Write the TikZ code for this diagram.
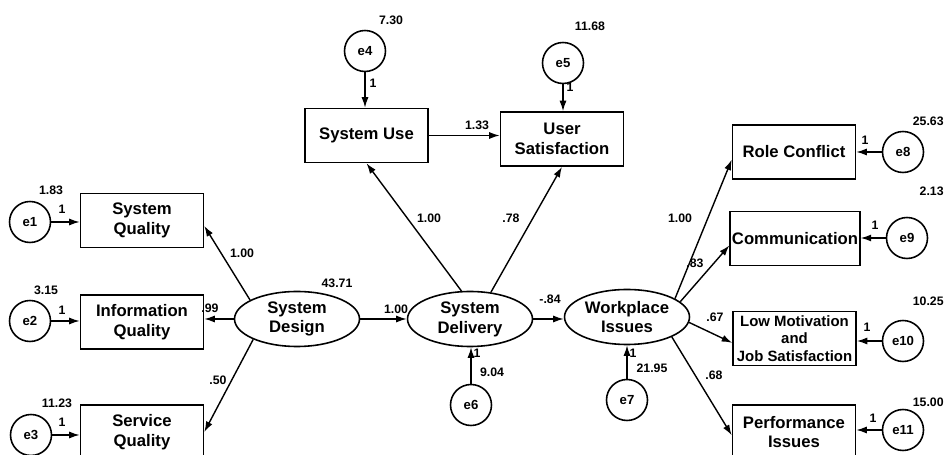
\documentclass[tikz,border=0pt]{standalone}
\usepackage{fontspec}
\setmainfont{Liberation Sans}
\usetikzlibrary{arrows.meta,shapes.geometric}

\begin{document}
\begin{tikzpicture}[x=0.02cm,y=-0.02cm,font=\fontsize{7}{8}\selectfont\bfseries]
  \tikzstyle{obs}=[draw,line width=0.9pt,minimum width=2.46cm,minimum height=1.08cm,align=center,inner sep=1pt,font=\fontsize{9.5}{11.3}\selectfont\bfseries]
  \tikzstyle{lat}=[ellipse,draw,line width=0.9pt,minimum width=2.5cm,minimum height=1.1cm,align=center,inner sep=0pt,font=\fontsize{9.5}{11.3}\selectfont\bfseries]
  \tikzstyle{err}=[circle,draw,line width=0.9pt,minimum size=0.82cm,inner sep=0pt,font=\fontsize{7.5}{8}\selectfont\bfseries]
  \tikzstyle{num}=[inner sep=0pt]
  \tikzstyle{arr}=[-{Latex[length=0.21cm,width=0.14cm]},line width=0.8pt]
  \useasboundingbox (0,0) rectangle (946,455);
  % measured variables
  \node[obs] (sq) at (142,220.5) {System\\Quality};
  \node[obs] (iq) at (142,322) {Information\\Quality};
  \node[obs] (svq) at (142,432) {Service\\Quality};
  \node[obs] (su) at (366.5,135.5) {System Use};
  \node[obs] (us) at (562,139) {User\\Satisfaction};
  \node[obs] (rc) at (794,152) {Role Conflict};
  \node[obs] (com) at (795,238.5) {Communication};
  \node[obs,inner sep=0.5pt,font=\fontsize{8.5}{10}\selectfont\bfseries] (lm) at (794.5,338.5) {Low Motivation\\and\\Job Satisfaction};
  \node[obs] (pi) at (794,432) {Performance\\Issues};
  % latent variables
  \node[lat] (sd) at (297,319) {System\\Design};
  \node[lat] (sdel) at (470,319) {System\\Delivery};
  \node[lat] (wi) at (627,317) {Workplace\\Issues};
  % error terms
  \node[err] (e1) at (30,222) {e1};
  \node[err] (e2) at (30,321) {e2};
  \node[err] (e3) at (31,435) {e3};
  \node[err] (e4) at (365,51) {e4};
  \node[err] (e5) at (563,63) {e5};
  \node[err] (e6) at (471,405) {e6};
  \node[err] (e7) at (627,400) {e7};
  \node[err] (e8) at (903,152) {e8};
  \node[err] (e9) at (907,238) {e9};
  \node[err] (e10) at (903,341) {e10};
  \node[err] (e11) at (903,430) {e11};
  % paths
  \draw[arr] (sd.158) -- (sq.-5);
  \draw[arr] (sd.west) -- (sd.west -| iq.east);
  \draw[arr] (sd.205) -- (svq.east);
  \draw[arr] (sd.east) -- (sd.east -| sdel.west);
  \draw[arr] (sdel.107) -- (su.south);
  \draw[arr] (sdel.52) -- (us.south);
  \draw[arr] (su.east) -- (su.east -| us.west);
  \draw[arr] (sdel.east) -- (sdel.east -| wi.west);
  \draw[arr] (wi.21) -- (rc.187);
  \draw[arr] (wi.16) -- (com.186);
  \draw[arr] (wi.-5) -- (lm.184);
  \draw[arr] (wi.-24) -- (pi.183);
  \draw[arr] (e1) -- (e1 -| sq.west);
  \draw[arr] (e2) -- (e2 -| iq.west);
  \draw[arr] (e3) -- (e3 -| svq.west);
  \draw[arr] (e4) -- (e4 |- su.north);
  \draw[arr] (e5) -- (e5 |- us.north);
  \draw[arr] (e6) -- (e6 |- sdel.south);
  \draw[arr] (e7) -- (e7 |- wi.south);
  \draw[arr] (e8) -- (e8 -| rc.east);
  \draw[arr] (e9) -- (e9 -| com.east);
  \draw[arr] (e10) -- (e10 -| lm.east);
  \draw[arr] (e11) -- (e11 -| pi.east);
  % estimates
  \node[num] (w1) at (242,253) {1.00};
  \node[num,anchor=west] (w2) at (201,308) {.99};
  \node[num] (w3) at (218,380) {.50};
  \node[num] (w4) at (396,309) {1.00};
  \node[num] (w5) at (429,218) {1.00};
  \node[num] (w6) at (511,218) {.78};
  \node[num] (w7) at (477,125) {1.33};
  \node[num] (w8) at (550,299) {-.84};
  \node[num] (w9) at (680,218) {1.00};
  \node[num] (w10) at (695,263) {.83};
  \node[num] (w11) at (715,317) {.67};
  \node[num] (w12) at (714,375) {.68};
  % variances
  \node[num] (v1) at (51,190) {1.83};
  \node[num] (v2) at (46,290) {3.15};
  \node[num] (v3) at (57,403) {11.23};
  \node[num] (v4) at (391,20) {7.30};
  \node[num] (v5) at (590,26) {11.68};
  \node[num] (v6) at (492,372) {9.04};
  \node[num] (v7) at (652,368) {21.95};
  \node[num] (vsd) at (337,283) {43.71};
  \node[num,anchor=east] (v8) at (944,121) {25.63};
  \node[num,anchor=east] (v9) at (944,191) {2.13};
  \node[num,anchor=east] (v10) at (944,301) {10.25};
  \node[num,anchor=east] (v11) at (944,402) {15.00};
  % fixed loadings
  \node[num] (o1) at (62,209) {1};
  \node[num] (o2) at (62,310) {1};
  \node[num] (o3) at (62,422) {1};
  \node[num] (o4) at (373,83) {1};
  \node[num] (o5) at (570,87) {1};
  \node[num] (o6) at (477,353) {1};
  \node[num] (o7) at (633,353) {1};
  \node[num] (o8) at (865,140) {1};
  \node[num] (o9) at (875,225) {1};
  \node[num] (o10) at (867,327) {1};
  \node[num] (o11) at (873,418) {1};
\end{tikzpicture}
\end{document}
